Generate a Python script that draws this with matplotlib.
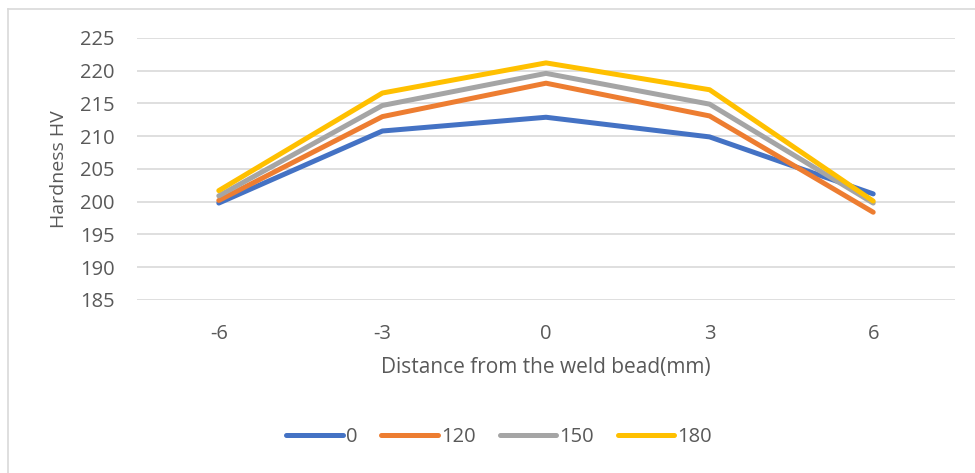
import numpy as np
import matplotlib
matplotlib.use("Agg")
import matplotlib.pyplot as plt
from matplotlib.lines import Line2D

# distance from weld bead (mm) and hardness per series
distance = ["-6", "-3", "0", "3", "6"]
series_names = ["0", "120", "150", "180"]
hv_0 = [199.8, 210.8, 212.9, 209.9, 201.2]
hv_120 = [200.2, 213.0, 218.1, 213.1, 198.4]
hv_150 = [200.9, 214.7, 219.6, 214.9, 199.8]
hv_180 = [201.7, 216.6, 221.2, 217.1, 200.1]
y_ticks = [185, 190, 195, 200, 205, 210, 215, 220, 225]

colors = ["#4472C4", "#ED7D31", "#A5A5A5", "#FFC000"]
txt = "#595959"
plt.rcParams['font.family'] = ['Open Sans', 'DejaVu Sans']

fig = plt.figure(figsize=(9.75, 4.73), dpi=100)
ax = fig.add_axes([137/975, 1-300/473, (955-137)/975, (300-38)/473])

# chart border (only left and top visible in the crop)
fig.lines.append(Line2D([7.5/975, 7.5/975], [0, 1-9/473], transform=fig.transFigure,
                        color="#d9d9d9", linewidth=1.2))
fig.lines.append(Line2D([7.5/975, 1], [1-9/473, 1-9/473], transform=fig.transFigure,
                        color="#d9d9d9", linewidth=1.2))

x = np.arange(len(distance))
for vals, name, c in zip([hv_0, hv_120, hv_150, hv_180], series_names, colors):
    ax.plot(x, vals, color=c, linewidth=3.6, label=name, solid_capstyle='round', zorder=3)

ax.set_xlim(-0.5, len(distance) - 0.5)
ax.set_ylim(185, 225)
ax.set_yticks(y_ticks)
ax.set_xticks(x)
ax.set_xticklabels(distance)
ax.grid(axis='y', color="#d9d9d9", linewidth=1.2)
ax.set_axisbelow(True)
for s in ["top", "right", "left", "bottom"]:
    ax.spines[s].set_visible(False)
ax.tick_params(length=0, labelsize=14.5, colors=txt)
ax.tick_params(axis='y', pad=16)
ax.tick_params(axis='x', pad=17)

ax.set_xlabel("Distance from the weld bead(mm)", fontsize=15, color=txt, labelpad=10)
ax.set_ylabel("Hardness HV", fontsize=14, color=txt, labelpad=9)

leg = fig.legend(loc='center', bbox_to_anchor=(499/975, 1-437/473), ncol=4, frameon=False,
                 fontsize=14.5, handlelength=2.8, handletextpad=0.15, columnspacing=1.2)
for t in leg.get_texts():
    t.set_color(txt)

fig.savefig("out.png", dpi=100)
